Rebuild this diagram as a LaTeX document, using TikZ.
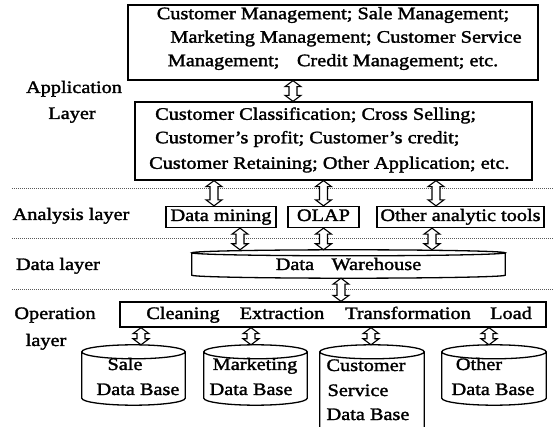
\documentclass[tikz,border=0pt]{standalone}
\usepackage{fontspec}
\setmainfont[FakeStretch=1.16, FakeBold=1.8]{Liberation Serif}
\usetikzlibrary{calc}

% cylinder outline drawn round a named (invisible) node: #1 node name, #2 ellipse half-height in pt
\newcommand\dbshape[2]{%
  \draw[frame] let \p1=(#1.north west), \p2=(#1.south east) in
    (\x1,\y1-#2pt) -- (\x1,\y2+#2pt)
      arc[start angle=180, end angle=360, x radius={(\x2-\x1)/2}, y radius=#2pt]
      -- (\x2,\y1-#2pt)
    ({(\x1+\x2)/2},\y1-#2pt) ellipse[x radius={(\x2-\x1)/2}, y radius=#2pt];}

% hollow two-headed arrow from point #1 (upper end) to point #2 (lower end)
\newcommand\dblarrow[2]{%
  \draw[arrowline] let \p1=#1, \p2=#2 in
    (\x1,\y1) -- (\x1+8pt,\y1-6pt) -- (\x1+4pt,\y1-6pt) -- (\x1+4pt,\y2+6pt)
    -- (\x1+8pt,\y2+6pt) -- (\x1,\y2) -- (\x1-8pt,\y2+6pt) -- (\x1-4pt,\y2+6pt)
    -- (\x1-4pt,\y1-6pt) -- (\x1-8pt,\y1-6pt) -- cycle;}

\begin{document}
\begin{tikzpicture}[x=1pt, y=1pt,
  every node/.style={font=\fontsize{17.5}{23.5}\selectfont, inner sep=0pt},
  lbl/.style={text height=12pt, text depth=4pt},
  frame/.style={draw, line width=1.3pt, text height=12pt, text depth=4pt},
  blank/.style={inner sep=0pt},
  arrowline/.style={draw, fill=white, line width=1.1pt, line join=miter},
  sep/.style={draw=black!65, line width=1pt, densely dotted},
]
\useasboundingbox (0,0) rectangle (554,-427);

% ---------- layer separators ----------
\coordinate (s1a) at (12,-189);  \coordinate (s1b) at (554,-189);
\coordinate (s2a) at (12,-239);  \coordinate (s2b) at (554,-239);
\coordinate (s3a) at (12,-290);  \coordinate (s3b) at (554,-290);
\draw[sep] (s1a) -- (s1b);
\draw[sep] (s2a) -- (s2b);
\draw[sep] (s3a) -- (s3b);

% ---------- application layer ----------
\node[draw, line width=1.3pt, minimum width=410pt, minimum height=75pt] (mgmt) at (333,-42.5) {};
\node[align=center] (mgmttxt) at (333,-38.5)
  {Customer Management; Sale Management;\\
   \hspace{26pt}Marketing Management; Customer Service\\
   Management;\quad Credit Management; etc.};

\node[draw, line width=1.3pt, minimum width=397pt, minimum height=78pt] (apps) at (333.5,-141) {};
\node[align=left, anchor=west] (appstxt) at (149,-140)
  {\hspace{6pt}Customer Classification; Cross Selling;\\
   \hspace{6pt}Customer's profit; Customer's credit;\\[2pt]
   Customer Retaining; Other Application; etc.};

\node[lbl] (lapp1) at (74,-89) {Application};
\node[lbl] (lapp2) at (72,-115) {Layer};

\dblarrow{(mgmt.south -| 293,0)}{(apps.north -| 293,0)}

% ---------- analysis layer ----------
\node[lbl] (lana) at (71,-216) {Analysis layer};
\node[frame, minimum width=110pt, minimum height=21pt] (mining) at (221,-217) {Data mining};
\node[frame, minimum width=71pt, minimum height=21pt] (olap) at (323.5,-217) {OLAP};
\node[frame, minimum width=167pt, minimum height=21pt] (other) at (460.5,-217) {Other analytic tools};

\dblarrow{(apps.south -| 214,0)}{(mining.north -| 214,0)}
\dblarrow{(apps.south -| olap.north)}{(olap.north)}
\dblarrow{(apps.south -| 436,0)}{(other.north -| 436,0)}

% ---------- data layer ----------
\node[lbl] (ldata) at (58,-266) {Data layer};
\node[blank, minimum width=313pt, minimum height=28pt] (dw) at (348.5,-264) {};
\dbshape{dw}{3}
\node[lbl] (dwtxt) at (348.5,-266) {Data\quad Warehouse};

\dblarrow{(mining.south -| 240,0)}{(dw.north -| 240,0)}
\dblarrow{(olap.south)}{(dw.north -| olap.south)}
\dblarrow{(other.south -| 432,0)}{(dw.north -| 432,0)}

% ---------- operation layer ----------
\node[lbl] (lop1) at (55,-315) {Operation};
\node[lbl] (lop2) at (46,-342) {layer};
\node[draw, line width=1.3pt, minimum width=426pt, minimum height=25pt] (etl) at (333,-314.5) {};
\node[lbl] (clean) at (183,-315) {Cleaning};
\node[lbl] (extr)  at (282,-315) {Extraction};
\node[lbl] (trans) at (408,-315) {Transformation};
\node[lbl] (load)  at (511,-315) {Load};

\dblarrow{(dw.south -| 341,0)}{(etl.north -| 341,0)}

% ---------- source data bases ----------
\node[blank, minimum width=103pt, minimum height=60pt] (saledb) at (133.5,-375) {};
\node[blank, minimum width=103pt, minimum height=60pt] (mktdb)  at (255.5,-375) {};
\node[blank, minimum width=104pt, minimum height=96pt] (servdb) at (372,-393) {};
\node[blank, minimum width=104pt, minimum height=60pt] (othdb)  at (494,-375) {};
\dbshape{saledb}{7}
\dbshape{mktdb}{7}
\dbshape{servdb}{7}
\dbshape{othdb}{7}

\node[lbl] (sale1) at (125,-366) {Sale};
\node[lbl] (sale2) at (138,-391) {Data Base};
\node[lbl] (mkt1)  at (255,-366) {Marketing};
\node[lbl] (mkt2)  at (251,-391) {Data Base};
\node[lbl] (serv1) at (366,-367) {Customer};
\node[lbl] (serv2) at (358,-392) {Service};
\node[lbl] (serv3) at (368,-416) {Data Base};
\node[lbl] (oth1)  at (479,-366) {Other};
\node[lbl] (oth2)  at (493,-391) {Data Base};

\dblarrow{(etl.south -| 141,0)}{(saledb.north -| 141,0)}
\dblarrow{(etl.south -| 251,0)}{(mktdb.north -| 251,0)}
\dblarrow{(etl.south -| 371,0)}{(servdb.north -| 371,0)}
\dblarrow{(etl.south -| 489,0)}{(othdb.north -| 489,0)}
\end{tikzpicture}
\end{document}
